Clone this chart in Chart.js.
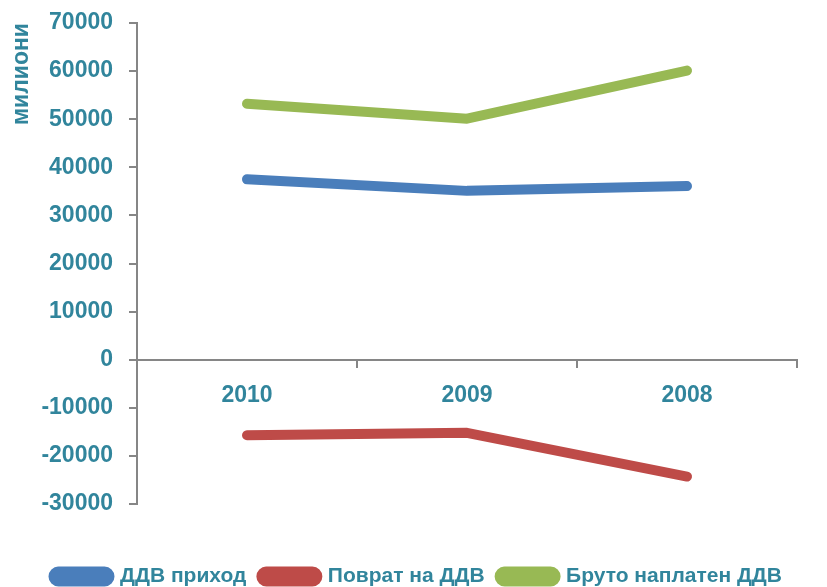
<!DOCTYPE html>
<html>
<head>
<meta charset="utf-8">
<script src="https://cdn.jsdelivr.net/npm/chart.js@4"></script>
<style>
  html, body { margin: 0; padding: 0; background: #fff; }
  #wrap { width: 827px; height: 587px; }
</style>
</head>
<body>
<div id="wrap"><canvas id="chart" width="827" height="587"></canvas></div>
<script>
// years as shown left to right
const categories = ['2010', '2009', '2008'];

// values in millions
const vatRevenue = [37500, 35100, 36100];
const vatRefund = [-15700, -15200, -24300];
const grossVat = [53200, 50100, 60100];

const seriesNames = ['ДДВ приход', 'Поврат на ДДВ', 'Бруто наплатен ДДВ'];
const yMin = -30000, yMax = 70000, yStep = 10000;

const teal = '#31859C';
const axisGrey = '#868686';
const font = 'Liberation Sans';

function line(label, data, color) {
    return {
        label: label,
        data: data,
        borderColor: color,
        backgroundColor: color,
        borderWidth: 10,
        borderCapStyle: 'round',
        borderJoinStyle: 'round',
        pointRadius: 0,
        tension: 0,
        fill: false
    };
}

new Chart(document.getElementById('chart'), {
    type: 'line',
    data: {
        labels: categories,
        datasets: [
            line(seriesNames[0], vatRevenue, '#4A7EBB'),
            line(seriesNames[1], vatRefund, '#BE4B48'),
            line(seriesNames[2], grossVat, '#98B954')
        ]
    },
    options: {
        responsive: false,
        animation: false,
        layout: { padding: { left: 8, right: 30, top: 23, bottom: -10 } },
        plugins: {
            legend: {
                position: 'bottom',
                align: 'end',
                // empty title only makes room between plot and legend
                title: { display: true, text: '', font: { size: 10 }, padding: { top: 17, bottom: 18 } },
                labels: {
                    color: teal,
                    font: { family: font, size: 21, weight: 'bold' },
                    boxWidth: 56,
                    boxHeight: 10,
                    useBorderRadius: true,
                    borderRadius: 5,
                    padding: 15
                }
            },
            tooltip: { enabled: false }
        },
        scales: {
            x: {
                type: 'category',
                offset: true,
                position: { y: 0 },
                border: { color: axisGrey, width: 2 },
                grid: {
                    offset: true,
                    drawOnChartArea: false,
                    drawTicks: true,
                    tickLength: 7,
                    color: axisGrey,
                    lineWidth: 2
                },
                ticks: {
                    color: teal,
                    font: { family: font, size: 23, weight: 'bold' },
                    padding: 15
                }
            },
            y: {
                min: yMin,
                max: yMax,
                border: { color: axisGrey, width: 2 },
                grid: {
                    drawOnChartArea: false,
                    drawTicks: true,
                    tickLength: 8,
                    color: axisGrey,
                    lineWidth: 2
                },
                ticks: {
                    stepSize: yStep,
                    color: teal,
                    font: { family: font, size: 23, weight: 'bold' },
                    padding: 16,
                    callback: v => String(v)
                },
                title: {
                    display: true,
                    text: 'милиони',
                    align: 'end',
                    color: teal,
                    font: { family: font, size: 23, weight: 'bold' },
                    padding: { top: 0, bottom: 0 }
                },
                afterFit: s => {
                    s.width = 129;
                    s.paddingTop = 0;
                    s.paddingBottom = 0;
                }
            }
        }
    }
});
</script>
</body>
</html>
